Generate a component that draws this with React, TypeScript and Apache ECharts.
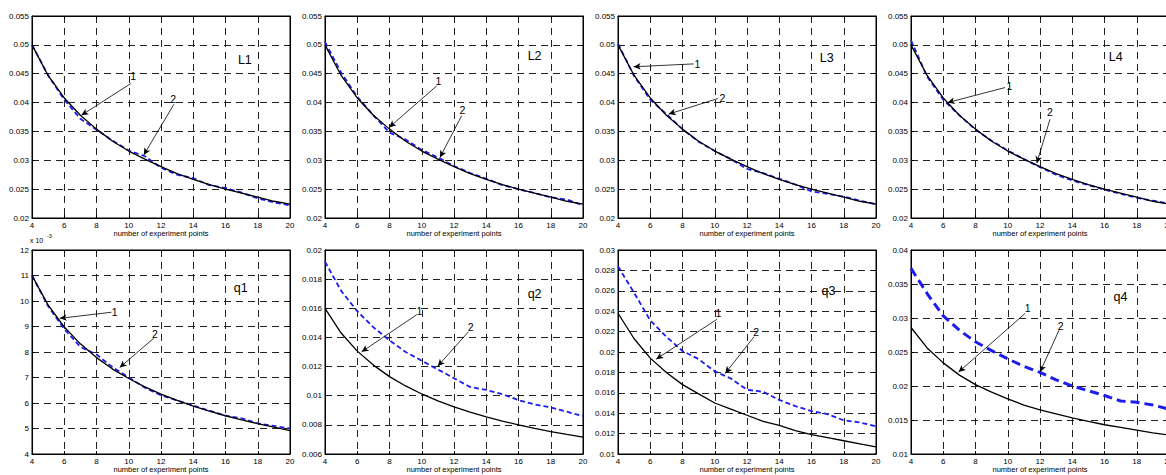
import React, { useEffect, useRef } from "react";
import * as echarts from "echarts";

// ---------- data ----------
const X_POINTS = [4, 5, 6, 7, 8, 9, 10, 11, 12, 13, 14, 15, 16, 17, 18, 19, 20];
const X_TICKS = { min: 4, max: 20, interval: 2 };

const L1_CURVE1 = [0.05, 0.0447, 0.0408, 0.0378, 0.0354, 0.0333, 0.0316, 0.0302, 0.0289, 0.0277, 0.0267, 0.0258, 0.025, 0.0243, 0.0236, 0.0229, 0.0224];
const L1_CURVE2 = [0.05, 0.0447, 0.0405, 0.0372, 0.0353, 0.0334, 0.0317, 0.0307, 0.0287, 0.0275, 0.0269, 0.0257, 0.0252, 0.0244, 0.0234, 0.0227, 0.0222];
const L2_CURVE1 = [0.05, 0.0447, 0.0408, 0.0378, 0.0354, 0.0333, 0.0316, 0.0302, 0.0289, 0.0277, 0.0267, 0.0258, 0.025, 0.0243, 0.0236, 0.0229, 0.0224];
const L2_CURVE2 = [0.0505, 0.0452, 0.041, 0.0378, 0.0348, 0.0336, 0.0318, 0.0305, 0.029, 0.0278, 0.0268, 0.0257, 0.025, 0.0243, 0.0236, 0.0232, 0.0222];
const L3_CURVE1 = [0.05, 0.0447, 0.0408, 0.0378, 0.0354, 0.0333, 0.0316, 0.0302, 0.0289, 0.0277, 0.0267, 0.0258, 0.025, 0.0243, 0.0236, 0.0229, 0.0224];
const L3_CURVE2 = [0.0502, 0.0446, 0.0405, 0.038, 0.0354, 0.0332, 0.0316, 0.0302, 0.0285, 0.0278, 0.0268, 0.0258, 0.0246, 0.0242, 0.0237, 0.023, 0.0224];
const L4_CURVE1 = [0.05, 0.0447, 0.0408, 0.0378, 0.0354, 0.0333, 0.0316, 0.0302, 0.0289, 0.0277, 0.0267, 0.0258, 0.025, 0.0243, 0.0236, 0.0229, 0.0224];
const L4_CURVE2 = [0.0508, 0.0445, 0.0405, 0.0378, 0.0353, 0.0334, 0.0317, 0.0302, 0.0288, 0.0275, 0.0265, 0.0257, 0.0249, 0.0242, 0.0235, 0.023, 0.0225];

const Q1_CURVE1 = [0.011, 0.00984, 0.00898, 0.00832, 0.00778, 0.00733, 0.00696, 0.00663, 0.00635, 0.0061, 0.00588, 0.00568, 0.0055, 0.00534, 0.00519, 0.00505, 0.00492];
const Q1_CURVE2 = [0.011, 0.0098, 0.0089, 0.0082, 0.0079, 0.0074, 0.007, 0.0066, 0.0063, 0.0061, 0.0059, 0.0057, 0.0055, 0.0054, 0.0052, 0.0051, 0.005];
const Q2_CURVE1 = [0.016, 0.0143, 0.01306, 0.0121, 0.01131, 0.01067, 0.01012, 0.00965, 0.00924, 0.00888, 0.00855, 0.00826, 0.008, 0.00776, 0.00754, 0.00734, 0.00716];
const Q2_CURVE2 = [0.0192, 0.0172, 0.0158, 0.0147, 0.0138, 0.013, 0.0124, 0.0118, 0.0112, 0.0106, 0.0104, 0.0101, 0.0097, 0.0094, 0.0092, 0.0089, 0.0086];
const Q3_CURVE1 = [0.0238, 0.0213, 0.0194, 0.018, 0.0168, 0.0159, 0.015, 0.0144, 0.0138, 0.0132, 0.0128, 0.0123, 0.0119, 0.0116, 0.0113, 0.011, 0.0107];
const Q3_CURVE2 = [0.0284, 0.0258, 0.0231, 0.0215, 0.0201, 0.0193, 0.0181, 0.0174, 0.0163, 0.0161, 0.0153, 0.0147, 0.0142, 0.0139, 0.0133, 0.0131, 0.0127];
const Q4_CURVE1 = [0.0286, 0.0256, 0.0234, 0.0216, 0.0202, 0.0191, 0.0181, 0.0172, 0.0165, 0.0159, 0.0153, 0.0148, 0.0143, 0.0139, 0.0135, 0.0131, 0.0128];
const Q4_CURVE2 = [0.0373, 0.0336, 0.0303, 0.0282, 0.0265, 0.0252, 0.024, 0.0229, 0.022, 0.0209, 0.02, 0.0193, 0.0186, 0.0178, 0.0176, 0.0172, 0.0166];

// y-axis ranges
const L_Y = { min: 0.02, max: 0.055, interval: 0.005 };
const Q1_Y = { min: 0.004, max: 0.012, interval: 0.001 };
const Q2_Y = { min: 0.006, max: 0.02, interval: 0.002 };
const Q3_Y = { min: 0.01, max: 0.03, interval: 0.002 };
const Q4_Y = { min: 0.01, max: 0.04, interval: 0.005 };

// annotation texts [x, y, text] and arrows [x0, y0, x1, y1] in data units
const L1_TEXTS = [[10.27, 0.0446, "1"], [12.76, 0.0407, "2"], [17.2, 0.0473, "L1"]];
const L1_ARROWS = [[10.13, 0.0433, 7.06, 0.0378], [12.8, 0.0397, 10.93, 0.0309]];
const L2_TEXTS = [[11.03, 0.0437, "1"], [12.52, 0.0387, "2"], [17.0, 0.048, "L2"]];
const L2_ARROWS = [[10.93, 0.0429, 7.98, 0.0357], [12.47, 0.0377, 11.13, 0.0305]];
const L3_TEXTS = [[8.92, 0.0467, "1"], [10.47, 0.0408, "2"], [16.94, 0.0478, "L3"]];
const L3_ARROWS = [[8.69, 0.0467, 4.97, 0.0462], [10.19, 0.0407, 7.14, 0.038]];
const L4_TEXTS = [[10.1, 0.0429, "1"], [12.62, 0.0383, "2"], [16.7, 0.0479, "L4"]];
const L4_ARROWS = [[9.83, 0.0426, 6.27, 0.04], [12.62, 0.0371, 11.8, 0.0295]];
const Q1_TEXTS = [[9.13, 0.00956, "1"], [11.62, 0.0087, "2"], [16.94, 0.0105, "q1"]];
const Q1_ARROWS = [[8.93, 0.00956, 5.72, 0.00932], [11.55, 0.00854, 9.44, 0.00739]];
const Q2_TEXTS = [[9.86, 0.01583, "1"], [13.03, 0.0147, "2"], [17.0, 0.017, "q2"]];
const Q2_ARROWS = [[9.69, 0.01556, 6.27, 0.01301], [12.89, 0.01438, 10.99, 0.01203]];
const Q3_TEXTS = [[10.23, 0.0238, "1"], [12.57, 0.022, "2"], [17.05, 0.026, "q3"]];
const Q3_ARROWS = [[10.13, 0.0232, 6.37, 0.0193], [12.44, 0.0215, 10.65, 0.0179]];
const Q4_TEXTS = [[11.24, 0.0315, "1"], [13.28, 0.0288, "2"], [16.99, 0.0331, "q4"]];
const Q4_ARROWS = [[11.07, 0.03066, 6.95, 0.02205], [13.18, 0.0282, 12.0, 0.02205]];

const X_TITLE = "number of experiment points";

const PANELS = [
  { c1: L1_CURVE1, c2: L1_CURVE2, y: L_Y, texts: L1_TEXTS, arrows: L1_ARROWS, thick: false, scale: 1 },
  { c1: L2_CURVE1, c2: L2_CURVE2, y: L_Y, texts: L2_TEXTS, arrows: L2_ARROWS, thick: false, scale: 1 },
  { c1: L3_CURVE1, c2: L3_CURVE2, y: L_Y, texts: L3_TEXTS, arrows: L3_ARROWS, thick: false, scale: 1 },
  { c1: L4_CURVE1, c2: L4_CURVE2, y: L_Y, texts: L4_TEXTS, arrows: L4_ARROWS, thick: false, scale: 1 },
  { c1: Q1_CURVE1, c2: Q1_CURVE2, y: Q1_Y, texts: Q1_TEXTS, arrows: Q1_ARROWS, thick: false, scale: 1000 },
  { c1: Q2_CURVE1, c2: Q2_CURVE2, y: Q2_Y, texts: Q2_TEXTS, arrows: Q2_ARROWS, thick: false, scale: 1 },
  { c1: Q3_CURVE1, c2: Q3_CURVE2, y: Q3_Y, texts: Q3_TEXTS, arrows: Q3_ARROWS, thick: false, scale: 1 },
  { c1: Q4_CURVE1, c2: Q4_CURVE2, y: Q4_Y, texts: Q4_TEXTS, arrows: Q4_ARROWS, thick: true, scale: 1 },
];

// ---------- layout ----------
const COL_LEFT = [32, 325, 618, 911];
const ROW_TOP = [16, 250];
const ROW_H = [202, 204];
const PLOT_W = 258;
const FONT = "'Liberation Sans', Arial, Helvetica, sans-serif";
const BLUE = "#1c1cf0";

function buildOption() {
  const grid: any[] = [];
  const xAxis: any[] = [];
  const yAxis: any[] = [];
  const series: any[] = [];

  PANELS.forEach((p, i) => {
    const col = i % 4;
    const row = Math.floor(i / 4);
    grid.push({
      left: COL_LEFT[col],
      top: ROW_TOP[row],
      width: PLOT_W,
      height: ROW_H[row],
      containLabel: false,
      outerBoundsMode: "none",
      show: true,
      borderColor: "#000",
      borderWidth: 1,
      backgroundColor: "#fff",
    });
    const tick = { show: true, inside: true, length: 3, lineStyle: { color: "#000", width: 1 } };
    xAxis.push({
      type: "value",
      gridIndex: i,
      position: "bottom",
      ...X_TICKS,
      axisLine: { show: true, onZero: false, lineStyle: { color: "#000", width: 1 } },
      axisTick: tick,
      axisLabel: { color: "#000", fontSize: 8, fontFamily: FONT, margin: 3 },
      splitLine: { show: true, lineStyle: { color: "#222", width: 1, type: [7, 5] } },
      name: X_TITLE,
      nameLocation: "middle",
      nameGap: 10,
      nameTextStyle: { color: "#000", fontSize: 7.5, fontFamily: FONT, verticalAlign: "top" },
    });
    xAxis.push({
      type: "value",
      gridIndex: i,
      position: "top",
      ...X_TICKS,
      axisLine: { show: true, onZero: false, lineStyle: { color: "#000", width: 1 } },
      axisTick: tick,
      axisLabel: { show: false },
      splitLine: { show: false },
    });
    const sc = p.scale;
    yAxis.push({
      type: "value",
      gridIndex: i,
      position: "left",
      ...p.y,
      axisLine: { show: true, onZero: false, lineStyle: { color: "#000", width: 1 } },
      axisTick: tick,
      axisLabel: {
        color: "#000",
        fontSize: 8,
        fontFamily: FONT,
        margin: 3,
        formatter: (v: number) => String(parseFloat((v * sc).toFixed(4))),
      },
      splitLine: { show: true, lineStyle: { color: "#222", width: 1, type: [7, 5] } },
    });
    yAxis.push({
      type: "value",
      gridIndex: i,
      position: "right",
      ...p.y,
      axisLine: { show: true, onZero: false, lineStyle: { color: "#000", width: 1 } },
      axisTick: tick,
      axisLabel: { show: false },
      splitLine: { show: false },
    });

    const xi = i * 2;
    const yi = i * 2;
    series.push({
      type: "line",
      xAxisIndex: xi,
      yAxisIndex: yi,
      data: X_POINTS.map((x, k) => [x, p.c2[k]]),
      showSymbol: false,
      symbol: "none",
      lineStyle: p.thick
        ? { color: BLUE, width: 3, type: [9, 5] }
        : { color: BLUE, width: 1.8, type: [5, 3] },
      z: 3,
    });
    series.push({
      type: "line",
      xAxisIndex: xi,
      yAxisIndex: yi,
      data: X_POINTS.map((x, k) => [x, p.c1[k]]),
      showSymbol: false,
      symbol: "none",
      lineStyle: { color: "#000", width: 1.3, type: "solid" },
      z: i >= 5 ? 3 : 4,
      markLine: {
        silent: true,
        symbol: ["none", "arrow"],
        symbolSize: [5, 7],
        label: { show: false },
        lineStyle: { color: "#000", width: 0.8, type: "solid" },
        data: p.arrows.map((a) => [{ coord: [a[0], a[1]] }, { coord: [a[2], a[3]] }]),
      },
    });
    series.push({
      type: "custom",
      xAxisIndex: xi,
      yAxisIndex: yi,
      silent: true,
      z: 5,
      clip: false,
      data: p.texts.map((t) => [t[0], t[1], t[2]]),
      encode: { x: 0, y: 1 },
      renderItem: (params: any, api: any) => {
        const pt = api.coord([api.value(0), api.value(1)]);
        const txt = p.texts[params.dataIndex][2] as string;
        return {
          type: "text",
          x: pt[0],
          y: pt[1],
          style: {
            text: txt,
            fill: "#000",
            fontFamily: FONT,
            fontSize: txt.length > 1 ? 12.5 : 10.5,
            align: "center",
            verticalAlign: "middle",
          },
        };
      },
    });
  });

  return {
    animation: false,
    backgroundColor: "#fff",
    grid,
    xAxis,
    yAxis,
    series,
    graphic: [
      {
        type: "text",
        left: 30,
        top: 237,
        style: { text: "x 10", fontSize: 7, fontFamily: FONT, fill: "#000" },
      },
      {
        type: "text",
        left: 47,
        top: 233,
        style: { text: "-3", fontSize: 5.5, fontFamily: FONT, fill: "#000" },
      },
    ],
  };
}

export default function App() {
  const ref = useRef<HTMLDivElement>(null);
  useEffect(() => {
    document.body.style.margin = "0";
    if (!ref.current) return;
    const chart = echarts.init(ref.current, null, { renderer: "svg" });
    chart.setOption(buildOption() as any);
    return () => chart.dispose();
  }, []);
  return <div ref={ref} style={{ width: 1166, height: 475, background: "#fff", overflow: "hidden" }} />;
}
